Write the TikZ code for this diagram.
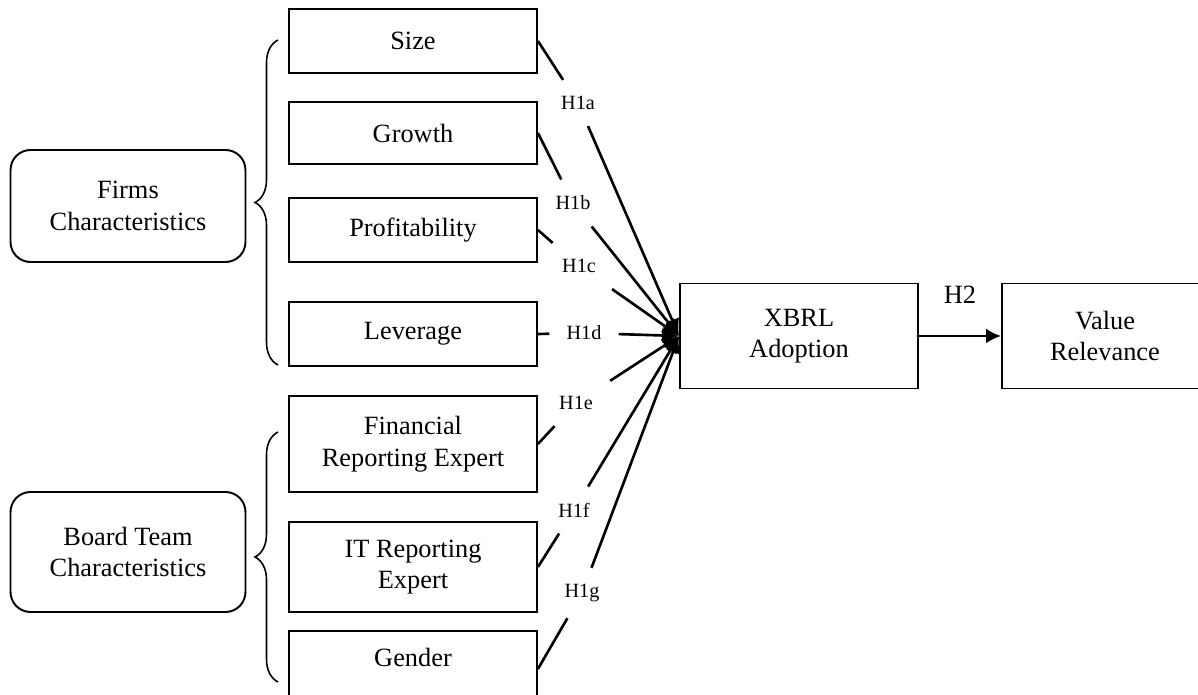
\documentclass[tikz,border=0pt]{standalone}
\usepackage{fontspec}
\setmainfont{Liberation Serif}
\usetikzlibrary{arrows.meta,decorations.pathreplacing}

\begin{document}
\begin{tikzpicture}[x=0.02cm, y=-0.02cm,
    box/.style={draw, line width=1.1pt, minimum width=4.96cm, align=center, font=\fontsize{15}{18}\selectfont},
    group/.style={draw, line width=1.1pt, rounded corners=0.4cm, minimum width=4.7cm, align=center, font=\fontsize{15}{18}\selectfont},
    hyp/.style={inner xsep=0.34cm, inner ysep=0.32cm, font=\fontsize{11.5}{14}\selectfont},
    link/.style={line width=1.5pt},
    brace/.style={decorate, decoration={brace, amplitude=0.46cm}, line width=0.9pt},
    >={Latex[length=0.34cm, width=0.3cm]}]
    \useasboundingbox (0,0) rectangle (1198,695);
    \node[group, minimum height=2.24cm] (firms) at (128,206) {Firms\\Characteristics};
    \node[group, minimum height=2.4cm] (board) at (128,552) {Board Team\\Characteristics};
    \node[box, minimum height=1.28cm] (size) at (413,41) {Size};
    \node[box, minimum height=1.24cm] (growth) at (413,133) {Growth};
    \node[box, minimum height=1.28cm] (profit) at (413,230) {Profitability};
    \node[box, minimum height=1.28cm] (leverage) at (413,334) {Leverage};
    \node[box, minimum height=1.92cm] (finexp) at (413,444) {Financial\\Reporting Expert};
    \node[box, minimum height=1.8cm] (itexp) at (413,567) {IT Reporting\\Expert};
    \node[box, minimum height=1.52cm, anchor=north, text depth=13pt] (gender) at (413,630) {Gender};
    \node[box, minimum width=4.76cm, minimum height=2.1cm] (xbrl) at (799,336) {XBRL\\Adoption};
    \node[box, minimum width=4.12cm, minimum height=2.1cm] (value) at (1105,336) {Value\\Relevance};
    \node[hyp] (h1a) at (578,103) {H1a};
    \node[hyp] (h1b) at (573,203) {H1b};
    \node[hyp] (h1c) at (579,266) {H1c};
    \node[hyp] (h1d) at (584,333) {H1d};
    \node[hyp] (h1e) at (576,403) {H1e};
    \node[hyp] (h1f) at (574,510) {H1f};
    \node[hyp] (h1g) at (582,593) {H1g};
    \draw[brace] (278,365) -- (278,40);
    \draw[brace] (278,682) -- (278,432);
    \path[link] (size.east) edge (h1a);
    \path[link] (growth.east) edge (h1b);
    \path[link] (profit.east) edge (h1c);
    \path[link] (leverage.east) edge (h1d);
    \path[link] (finexp.east) edge (h1e);
    \path[link] (itexp.east) edge (h1f);
    \path[link] (gender.east) edge (h1g);
    \path[->, link] (h1a) edge (xbrl.west);
    \path[->, link] (h1b) edge (xbrl.west);
    \path[->, link] (h1c) edge (xbrl.west);
    \path[->, link] (h1d) edge (xbrl.west);
    \path[->, link] (h1e) edge (xbrl.west);
    \path[->, link] (h1f) edge (xbrl.west);
    \path[->, link] (h1g) edge (xbrl.west);
    \path[->, link, >={Latex[length=0.3cm, width=0.3cm]}] (xbrl) edge node[above=0.5cm, font=\fontsize{15}{18}\selectfont] {H2} (value);
\end{tikzpicture}
\end{document}
